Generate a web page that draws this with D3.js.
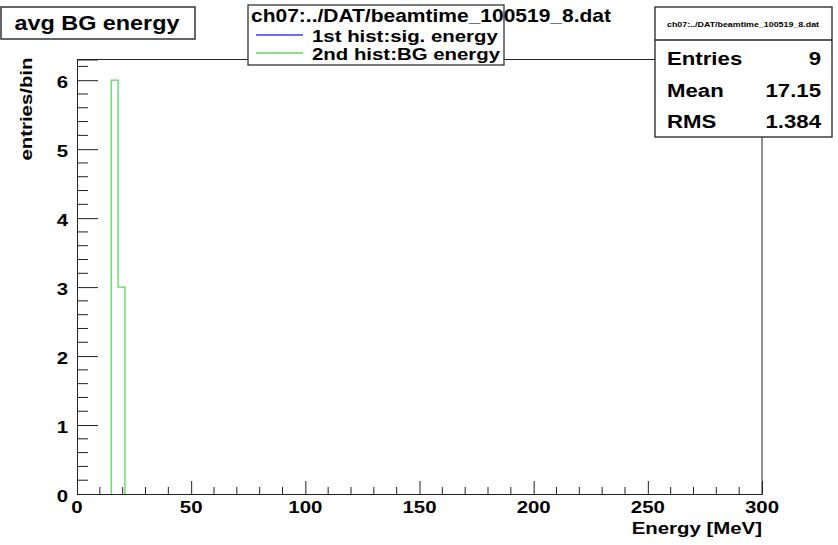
<!DOCTYPE html>
<html>
<head>
<meta charset="utf-8">
<script src="https://cdn.jsdelivr.net/npm/d3@7"></script>
<style>
  html, body { margin: 0; padding: 0; background: #fff; }
  svg { display: block; }
  text { font-family: "Liberation Sans", Arial, Helvetica, sans-serif; font-weight: bold; fill: #000; }
</style>
</head>
<body>
<svg id="chart" width="838" height="545"></svg>
<script>
// Histogram contents: 100 bins of 3 MeV from 0 to 300 MeV, only non-empty bins listed
const binLowEdges = [15, 18];
const binCounts = [6, 3];
const binWidth = 3;
const xDomain = [0, 300];
const yDomain = [0, 6.3];

const xTickValues = [0, 50, 100, 150, 200, 250, 300];
const yTickValues = [0, 1, 2, 3, 4, 5, 6];

const histTitle = "avg BG energy";
const legendHeader = "ch07:../DAT/beamtime_100519_8.dat";
const legendLabels = ["1st hist:sig. energy", "2nd hist:BG energy"];
const legendColors = ["#3b3bf2", "#5fd85f"];
const statNames = ["Entries", "Mean", "RMS"];
const statValues = ["9", "17.15", "1.384"];

const svg = d3.select("#chart");
const frame = { left: 77, right: 762, top: 59.5, bottom: 494 };
const STRETCH = 1.2; // wide Helvetica-style lettering

// Places a text element at (px,py) with horizontal stretch and optional rotation
function label(parent, px, py, str, size, anchor, rot) {
  const t = parent.append("text")
    .attr("transform", `translate(${px},${py})${rot ? ` rotate(${rot})` : ""} scale(${STRETCH},1)`)
    .attr("font-size", size)
    .attr("text-anchor", anchor || "start")
    .text(str);
  return t;
}

const x = d3.scaleLinear().domain(xDomain).range([frame.left, frame.right]);
const y = d3.scaleLinear().domain(yDomain).range([frame.bottom, frame.top]);

// Frame (top and right edges; axes supply left and bottom)
svg.append("path")
  .attr("d", `M${frame.left},${frame.top}H${frame.right}V${frame.bottom}`)
  .attr("fill", "none").attr("stroke", "#222").attr("stroke-width", 1);

// Histogram outline drawn as a step line
const pts = [];
binLowEdges.forEach((lo, i) => {
  if (i === 0) pts.push([lo, 0]);
  pts.push([lo, binCounts[i]]);
  pts.push([lo + binWidth, binCounts[i]]);
});
pts.push([binLowEdges[binLowEdges.length - 1] + binWidth, 0]);
svg.append("path")
  .datum(pts)
  .attr("d", d3.line().x(d => x(d[0])).y(d => y(d[1])))
  .attr("fill", "none").attr("stroke", legendColors[1]).attr("stroke-width", 1.3);

// X axis: major ticks every 50, minor every 10, pointing into the frame
const xMinor = d3.range(0, 301, 10).filter(v => v % 50 !== 0);
const xAxisG = svg.append("g").attr("transform", `translate(0,${frame.bottom})`);
xAxisG.call(d3.axisTop(x).tickValues(xTickValues).tickSize(13).tickFormat(""))
  .call(g => g.select(".domain").attr("stroke", "#222"));
xAxisG.selectAll(".tick line").attr("stroke", "#222");
xAxisG.selectAll(".xminor").data(xMinor).join("line")
  .attr("x1", d => x(d)).attr("x2", d => x(d)).attr("y1", 0).attr("y2", -7)
  .attr("stroke", "#222");
xTickValues.forEach(v => label(xAxisG, x(v), 19, v, 17, "middle"));

// Y axis: major ticks every 1, minor every 0.2
const yMinor = d3.range(0, 6.31, 0.2).map(v => +v.toFixed(1)).filter(v => Math.abs(v - Math.round(v)) > 1e-6);
const yAxisG = svg.append("g").attr("transform", `translate(${frame.left},0)`);
yAxisG.call(d3.axisRight(y).tickValues(yTickValues).tickSize(21).tickFormat(""))
  .call(g => g.select(".domain").attr("stroke", "#222"));
yAxisG.selectAll(".tick line").attr("stroke", "#222");
yAxisG.selectAll(".yminor").data(yMinor).join("line")
  .attr("x1", 0).attr("x2", 11).attr("y1", d => y(d)).attr("y2", d => y(d))
  .attr("stroke", "#222");
yTickValues.forEach(v => label(yAxisG, -9, y(v) + 8, v, 17, "end"));

// Axis titles
label(svg, frame.right, 534, "Energy [MeV]", 17, "end");
label(svg, 32, frame.top - 2, "entries/bin", 17, "end", -90);

// Title box
svg.append("rect").attr("x", 1).attr("y", 7).attr("width", 194).attr("height", 32)
  .attr("fill", "#fff").attr("stroke", "#333").attr("stroke-width", 1.5);
label(svg, 97, 30, histTitle, 19.5, "middle");

// Legend box
svg.append("rect").attr("x", 248).attr("y", 5).attr("width", 256).attr("height", 60)
  .attr("fill", "#fff").attr("stroke", "#222").attr("stroke-width", 1.2);
label(svg, 251, 22, legendHeader, 17.5);
legendLabels.forEach((s, i) => {
  const yy = 35 + i * 18;
  svg.append("line").attr("x1", 256).attr("x2", 303).attr("y1", yy).attr("y2", yy)
    .attr("stroke", legendColors[i]).attr("stroke-width", 1.3);
  label(svg, 312, yy + 7, s, 17);
});

// Statistics box
svg.append("rect").attr("x", 655).attr("y", 7).attr("width", 177).attr("height", 130)
  .attr("fill", "#fff").attr("stroke", "#222").attr("stroke-width", 1.3);
svg.append("line").attr("x1", 655).attr("x2", 832).attr("y1", 40).attr("y2", 40)
  .attr("stroke", "#222").attr("stroke-width", 1.3);
label(svg, 743, 27, legendHeader, 7.4, "middle").attr("font-weight", "normal");
statNames.forEach((s, i) => {
  const yy = 65 + i * 31.7;
  label(svg, 667, yy, s, 18.5);
  label(svg, 821, yy, statValues[i], 18.5, "end");
});
</script>
</body>
</html>
